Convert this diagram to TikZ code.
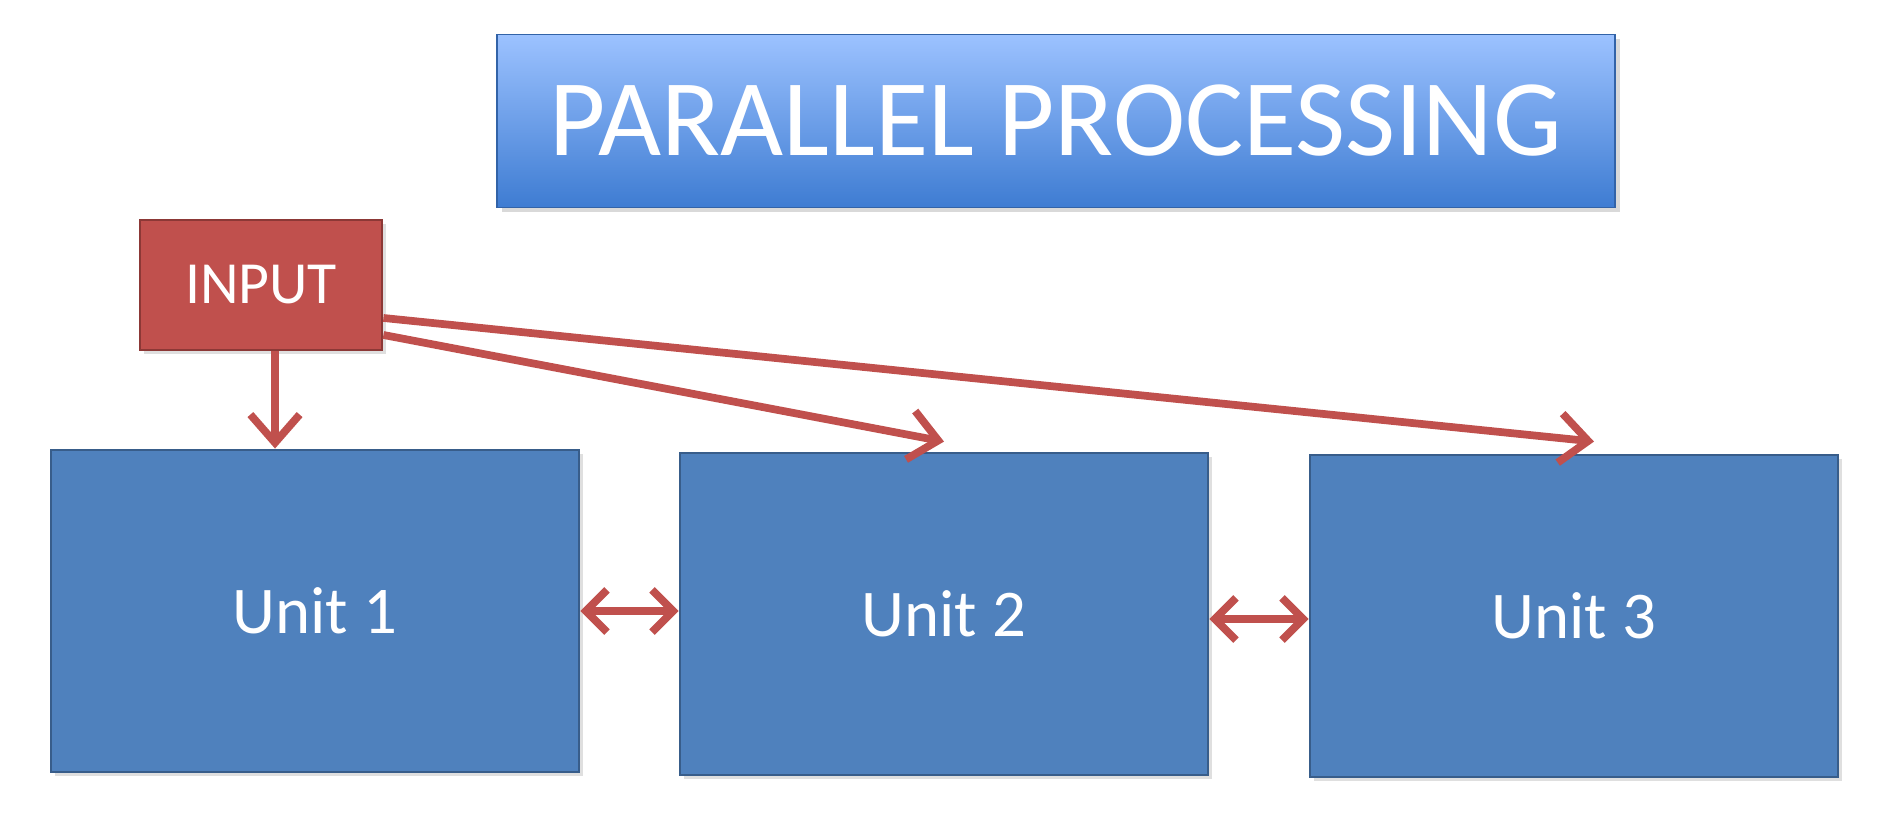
\documentclass[tikz,border=0pt]{standalone}
\usepackage{fontspec}
\setmainfont{Carlito}
\usetikzlibrary{arrows.meta,shadows}

\definecolor{unitblue}{HTML}{4F81BD}
\definecolor{unitedge}{HTML}{385D8A}
\definecolor{inred}{HTML}{C0504D}
\definecolor{inedge}{HTML}{8C3836}
\definecolor{titletop}{HTML}{9CC2FF}
\definecolor{titlebot}{HTML}{3E7CD2}

\tikzset{
    unitbox/.style={draw=unitedge,thick,fill=unitblue,text=white,
        minimum width=5.28cm,minimum height=3.22cm,font=\fontsize{19}{22}\selectfont,
        drop shadow={opacity=0.25,shadow xshift=0.04cm,shadow yshift=-0.04cm}},
    feed/.style={draw=inred,line width=2.2pt,-{Straight Barb[length=8pt,width=14pt,line width=2.2pt]}},
    link/.style={draw=inred,line width=2.2pt,{Straight Barb[length=6pt,width=12pt,line width=2.2pt]}-{Straight Barb[length=6pt,width=12pt,line width=2.2pt]}}
}

\begin{document}
\begin{tikzpicture}
\useasboundingbox (0,0) rectangle (18.79,8.18);

\node (title) at (10.56,6.97) [draw=titlebot!80!black,top color=titletop,bottom color=titlebot,
    text=white,minimum width=11.18cm,minimum height=1.73cm,font=\fontsize{31}{36}\selectfont,
    drop shadow={opacity=0.3,shadow xshift=0.05cm,shadow yshift=-0.05cm}] {PARALLEL PROCESSING};

\node (input) at (2.61,5.33) [draw=inedge,thick,fill=inred,text=white,minimum width=2.42cm,
    minimum height=1.30cm,font=\fontsize{17}{20}\selectfont,
    drop shadow={opacity=0.25,shadow xshift=0.04cm,shadow yshift=-0.04cm}] {INPUT};

\begin{scope}[every node/.style={unitbox}]
    \node (u1) at (3.15,2.07) {Unit 1};
    \node (u2) at (9.44,2.04) {Unit 2};
    \node (u3) at (15.74,2.02) {Unit 3};
\end{scope}

\draw[feed] ([xshift=0.14cm]input.south) -- ([xshift=0.14cm]input.south |- u1.north);
\draw[feed] ([yshift=-0.5cm]input.east) -- ([yshift=0.1cm]u2.north);
\draw[feed] ([yshift=-0.33cm]input.east) -- ([xshift=0.2cm,yshift=0.12cm]u3.north);
\draw[link] (u1.east) -- (u1.east -| u2.west);
\draw[link] ([yshift=-0.05cm]u2.east) -- ([yshift=-0.05cm]u2.east -| u3.west);
\end{tikzpicture}
\end{document}
